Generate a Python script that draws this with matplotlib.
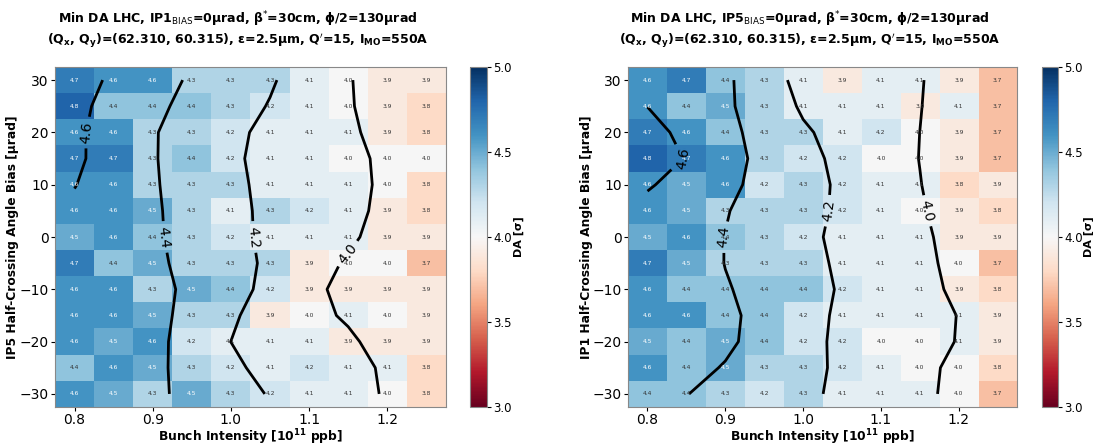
import numpy as np
import matplotlib
matplotlib.use("Agg")
import matplotlib.pyplot as plt

# bunch intensity [1e11 ppb] and half-crossing angle bias [urad]
intensity = [0.80, 0.85, 0.90, 0.95, 1.00, 1.05, 1.10, 1.15, 1.20, 1.25]
bias = [30, 25, 20, 15, 10, 5, 0, -5, -10, -15, -20, -25, -30]

# min DA, IP1 bias = 0 (scan over IP5 bias), rows top -> bottom
da_ip1 = [
    [4.7, 4.6, 4.6, 4.3, 4.3, 4.3, 4.1, 4.0, 3.9, 3.9],
    [4.8, 4.4, 4.4, 4.4, 4.3, 4.2, 4.1, 4.0, 3.9, 3.8],
    [4.6, 4.6, 4.3, 4.3, 4.2, 4.1, 4.1, 4.1, 3.9, 3.8],
    [4.7, 4.7, 4.3, 4.4, 4.2, 4.1, 4.1, 4.0, 4.0, 4.0],
    [4.6, 4.6, 4.3, 4.3, 4.3, 4.1, 4.1, 4.1, 4.0, 3.8],
    [4.6, 4.6, 4.5, 4.3, 4.1, 4.3, 4.2, 4.1, 3.9, 3.8],
    [4.5, 4.6, 4.4, 4.3, 4.2, 4.1, 4.1, 4.1, 3.9, 3.9],
    [4.7, 4.4, 4.5, 4.3, 4.3, 4.3, 3.9, 4.0, 4.0, 3.7],
    [4.6, 4.6, 4.3, 4.5, 4.4, 4.2, 3.9, 3.9, 3.9, 3.9],
    [4.6, 4.6, 4.5, 4.3, 4.3, 3.9, 4.0, 4.1, 4.0, 3.9],
    [4.6, 4.5, 4.6, 4.2, 4.1, 4.1, 4.1, 3.9, 3.9, 3.9],
    [4.4, 4.6, 4.5, 4.3, 4.2, 4.1, 4.2, 4.1, 4.1, 3.8],
    [4.6, 4.5, 4.3, 4.5, 4.3, 4.2, 4.1, 4.1, 4.0, 3.8],
]

# min DA, IP5 bias = 0 (scan over IP1 bias)
da_ip5 = [
    [4.6, 4.7, 4.4, 4.3, 4.1, 3.9, 4.1, 4.1, 3.9, 3.7],
    [4.6, 4.4, 4.5, 4.3, 4.1, 4.1, 4.1, 3.9, 4.1, 3.7],
    [4.7, 4.6, 4.4, 4.3, 4.3, 4.1, 4.2, 4.0, 3.9, 3.7],
    [4.8, 4.7, 4.6, 4.3, 4.2, 4.2, 4.0, 4.0, 3.9, 3.7],
    [4.6, 4.5, 4.6, 4.2, 4.3, 4.2, 4.1, 4.1, 3.8, 3.9],
    [4.6, 4.5, 4.3, 4.3, 4.3, 4.2, 4.1, 4.0, 3.9, 3.8],
    [4.5, 4.6, 4.4, 4.3, 4.2, 4.1, 4.1, 4.1, 3.9, 3.9],
    [4.7, 4.5, 4.3, 4.3, 4.3, 4.1, 4.1, 4.1, 4.0, 3.7],
    [4.6, 4.4, 4.4, 4.4, 4.4, 4.2, 4.1, 4.1, 3.9, 3.8],
    [4.6, 4.6, 4.4, 4.4, 4.2, 4.1, 4.1, 4.1, 4.1, 3.9],
    [4.5, 4.4, 4.5, 4.4, 4.2, 4.2, 4.0, 4.0, 4.1, 3.9],
    [4.6, 4.4, 4.5, 4.3, 4.3, 4.2, 4.1, 4.0, 4.0, 3.8],
    [4.4, 4.4, 4.3, 4.2, 4.3, 4.1, 4.1, 4.1, 4.0, 3.7],
]

levels = [4.0, 4.2, 4.4, 4.6]


def smooth(z, sigma=1.0):
    # plain gaussian filter, reflect at the edges
    r = int(4 * sigma + 0.5)
    k = np.exp(-0.5 * (np.arange(-r, r + 1) / sigma) ** 2)
    k /= k.sum()
    zp = np.pad(z, r, mode='symmetric')
    zp = np.apply_along_axis(lambda m: np.convolve(m, k, mode='valid'), 0, zp)
    zp = np.apply_along_axis(lambda m: np.convolve(m, k, mode='valid'), 1, zp)
    return zp


def draw(ax, cax, data, ip, other):
    z = np.array(data)
    x = np.array(intensity)
    y = np.array(bias, dtype=float)
    dx = (x[1] - x[0]) / 2
    dy = abs(y[1] - y[0]) / 2
    im = ax.imshow(z, cmap='RdBu', vmin=3, vmax=5, aspect='auto', origin='upper',
                   extent=[x[0] - dx, x[-1] + dx, y[-1] - dy, y[0] + dy])
    for i, yy in enumerate(y):
        for j, xx in enumerate(x):
            c = 'white' if z[i, j] >= 4.45 else '#333333'
            ax.text(xx, yy, '%.1f' % z[i, j], ha='center', va='center',
                    fontsize=4.3, color=c)
    zs = smooth(z[::-1], 1.0)
    cs = ax.contour(x, y[::-1], zs, levels=levels, colors='black', linewidths=2)
    ax.clabel(cs, fmt='%.1f', fontsize=10, inline=True)
    ax.set_xticks([0.8, 0.9, 1.0, 1.1, 1.2])
    ax.set_yticks([-30, -20, -10, 0, 10, 20, 30])
    ax.tick_params(labelsize=10, length=3, pad=1.5)
    for s in ax.spines.values():
        s.set_color('#888888')
    ax.set_xlabel(r'Bunch Intensity [10$^{\mathbf{11}}$ ppb]', fontsize=8.8, fontweight='bold', labelpad=0)
    ax.set_ylabel(other + ' Half-Crossing Angle Bias [μrad]', fontsize=8.8, fontweight='bold', labelpad=0)
    title = ('Min DA LHC, ' + ip + r'$_{\rm BIAS}$=0μrad, β$^{*}$=30cm, ϕ/2=130μrad' + '\n'
             + r'(Q$_{\bf x}$, Q$_{\bf y}$)=(62.310, 60.315), ε=2.5μm, Q$^{\prime}$=15, I$_{\bf MO}$=550A')
    ax.set_title(title, fontsize=9, fontweight='bold', x=0.468, pad=17)
    cb = plt.colorbar(im, cax=cax)
    cb.set_ticks([3.0, 3.5, 4.0, 4.5, 5.0])
    cb.ax.tick_params(labelsize=8.5, length=3, pad=1.5)
    cb.outline.set_edgecolor('#888888')
    cb.set_label('DA [σ]', fontsize=8, fontweight='bold', labelpad=1)


fig = plt.figure(figsize=(10.93, 4.45), dpi=100)
ax1 = fig.add_axes([0.0503, 0.0854, 0.3577, 0.764])
cax1 = fig.add_axes([0.430, 0.0854, 0.0156, 0.764])
ax2 = fig.add_axes([0.5746, 0.0854, 0.356, 0.764])
cax2 = fig.add_axes([0.9533, 0.0854, 0.0146, 0.764])

draw(ax1, cax1, da_ip1, 'IP1', 'IP5')
draw(ax2, cax2, da_ip5, 'IP5', 'IP1')

fig.savefig('out.png', dpi=100)
